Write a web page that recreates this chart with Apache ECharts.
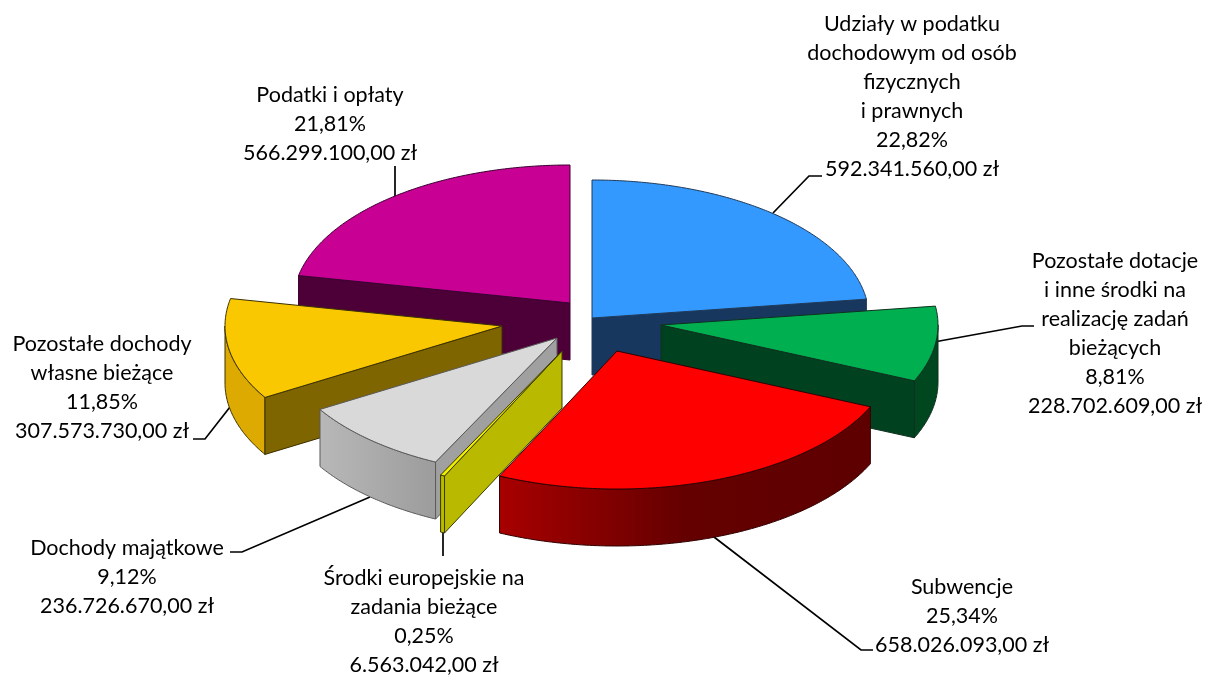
<!DOCTYPE html>
<html>
<head>
<meta charset="utf-8">
<title>Dochody</title>
<script src="https://cdn.jsdelivr.net/npm/echarts@6/dist/echarts.min.js"></script>
<style>
    html, body { margin: 0; padding: 0; background: #fff; }
    #chart { width: 1205px; height: 675px; }
</style>
</head>
<body>
<div id="chart"></div>
<script>
// clockwise from 12 o'clock
var categories = [
    'Udziały w podatku\ndochodowym od osób\nfizycznych\ni prawnych',
    'Pozostałe dotacje\ni inne środki na\nrealizację zadań\nbieżących',
    'Subwencje',
    'Środki europejskie na\nzadania bieżące',
    'Dochody majątkowe',
    'Pozostałe dochody\nwłasne bieżące',
    'Podatki i opłaty'
];
var percents = [22.82, 8.81, 25.34, 0.25, 9.12, 11.85, 21.81];
var amounts = [592341560, 228702609, 658026093, 6563042, 236726670, 307573730, 566299100];

// picture layout, one entry per slice
var RX = 277, RY = 138, DEPTH = 57;
var apex = [[592, 318], [661, 325], [617, 351], [562, 351], [557, 338], [502, 326], [570, 303]];
var paintRank = [2, 3, 7, 6, 5, 4, 1];
var topColor = ['#3399ff', '#00b050', '#ff0000', '#f2ee00', '#d9d9d9', '#fac800', '#c80094'];
var wallColor = ['#17375e', '#00421f', '#600000', '#b9b900', '#a0a0a0', '#7f6500', '#4d0038'];
var rimColor = [
    ['#17375e', '#17375e'],
    ['#00461f', '#00461f'],
    ['#5e0000', '#640000', '#a80000'],
    ['#b9b900', '#b9b900'],
    ['#9c9c9c', '#b8b8b8'],
    ['#dcaa00', '#dcaa00'],
    ['#4d0038', '#4d0038']
];
var edgeColor = ['#1f3a5a', '#10301f', '#300000', '#3a3a00', '#5a5a5a', '#3a3000', '#3a0030'];
var labelPos = [[912, 97], [1115, 334], [962, 616], [424, 622], [127, 577], [102, 388], [330, 124]];
var leaders = [
    [[822, 176], [809, 176], [773, 213]],
    [[1034, 326], [1022, 326], [934, 342]],
    [[873, 650], [861, 650], [714, 537]],
    [[443, 532], [443, 556]],
    [[230, 552], [242, 552], [370, 497]],
    [[193, 439], [205, 439], [230, 407]],
    [[395, 197], [395, 166]]
];

var total = amounts.reduce(function (a, b) { return a + b; }, 0);
var startAngle = [];
(function () {
    var acc = 0;
    amounts.forEach(function (v) {
        startAngle.push(acc);
        acc += v / total * Math.PI * 2;
    });
})();

function money(v) {
    var s = v.toFixed(2).split('.');
    return s[0].replace(/\B(?=(\d{3})+$)/g, '.') + ',' + s[1] + ' zł';
}

function pct(v) {
    return v.toFixed(2).replace('.', ',') + '%';
}

function rimPoint(c, t, dy) {
    return [c[0] + RX * Math.sin(t), c[1] - RY * Math.cos(t) + dy];
}

function arc(c, a, b, dy) {
    var pts = [];
    var n = Math.max(2, Math.ceil(Math.abs(b - a) / 0.01));
    for (var i = 0; i <= n; i++) {
        pts.push(rimPoint(c, a + (b - a) * i / n, dy));
    }
    return pts;
}

function polygon(points, fill, stroke, z2) {
    return {
        type: 'polygon',
        shape: { points: points },
        style: { fill: fill, stroke: stroke, lineWidth: 1, lineJoin: 'round' },
        z2: z2,
        silent: true
    };
}

function renderSlice(params, api) {
    var i = params.dataIndex;
    var sweep = api.value(0) / total * Math.PI * 2;
    var a = startAngle[i], b = a + sweep;
    var c = apex[i];
    var z = paintRank[i] * 10;
    var children = [];

    // outer rim, only the half facing the viewer
    var ra = Math.max(a, Math.PI / 2), rb = Math.min(b, Math.PI * 1.5);
    if (rb > ra) {
        var stops = rimColor[i].map(function (col, k, all) {
            return { offset: k / (all.length - 1), color: col };
        });
        // left to right on the picture, so the stops go from the far end
        children.push(polygon(
            arc(c, ra, rb, 0).concat(arc(c, rb, ra, DEPTH)),
            { type: 'linear', x: 1, y: 0, x2: 0, y2: 0, colorStops: stops },
            edgeColor[i], z
        ));
    }

    // radial walls that turn towards the viewer
    function wall(t) {
        var p = rimPoint(c, t, 0);
        children.push(polygon(
            [c, p, [p[0], p[1] + DEPTH], [c[0], c[1] + DEPTH]],
            wallColor[i], edgeColor[i], z + 1
        ));
    }
    if (Math.sin(a) < -1e-6) wall(a);
    if (Math.sin(b) > 1e-6) wall(b);

    children.push(polygon([c].concat(arc(c, a, b, 0)), topColor[i], edgeColor[i], z + 2));

    return { type: 'group', children: children };
}

function renderLabel(params, api) {
    var i = params.dataIndex;
    return {
        type: 'group',
        children: [
            {
                type: 'polyline',
                shape: { points: leaders[i] },
                style: { stroke: '#000', lineWidth: 1.7, fill: null },
                z2: 1,
                silent: true
            },
            {
                type: 'text',
                x: labelPos[i][0],
                y: labelPos[i][1],
                z2: 200,
                silent: true,
                style: {
                    text: categories[i] + '\n' + pct(api.value(1)) + '\n' + money(api.value(0)),
                    font: '21.5px Lato',
                    lineHeight: 29,
                    fill: '#000',
                    align: 'center',
                    verticalAlign: 'middle'
                }
            }
        ]
    };
}

var seriesData = amounts.map(function (v, i) {
    return [v, percents[i]];
});

var myChart = echarts.init(document.getElementById('chart'));
myChart.setOption({
    backgroundColor: '#fff',
    animation: false,
    series: [
        { type: 'custom', coordinateSystem: 'none', renderItem: renderSlice, data: seriesData, silent: true },
        { type: 'custom', coordinateSystem: 'none', renderItem: renderLabel, data: seriesData, silent: true, z: 1 }
    ]
});
</script>
</body>
</html>
